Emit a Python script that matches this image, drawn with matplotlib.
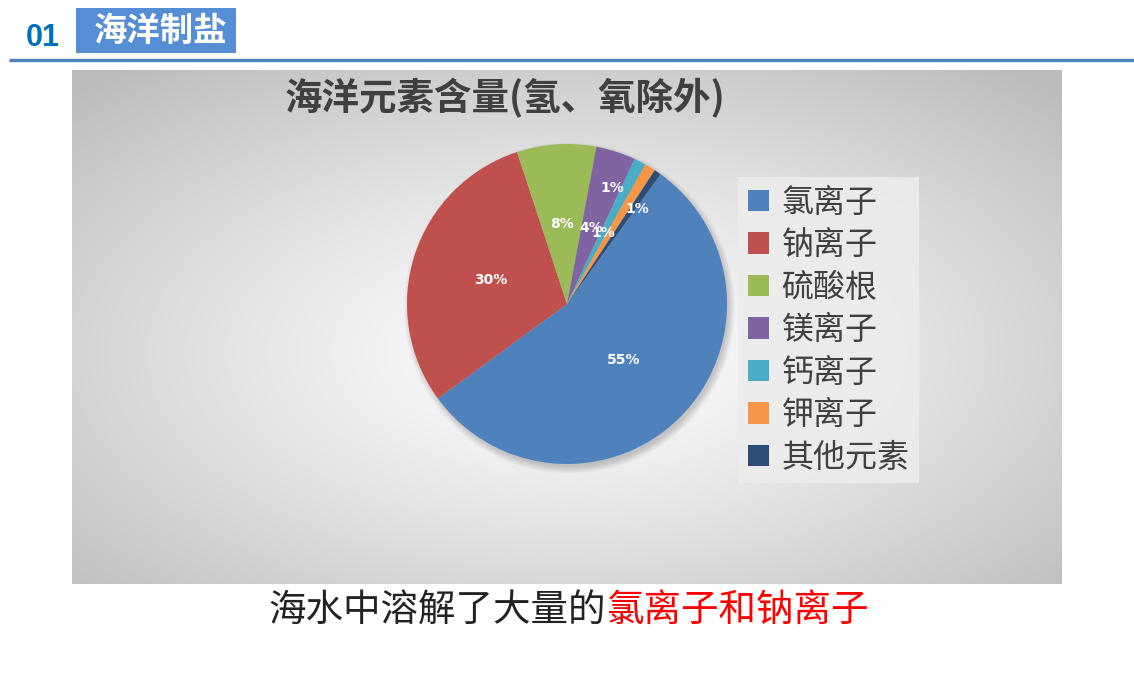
import numpy as np
import matplotlib
matplotlib.use('Agg')
import matplotlib.pyplot as plt
from matplotlib.patches import Patch, Rectangle, Circle

plt.rcParams['font.family'] = ['Noto Sans CJK SC', 'DejaVu Sans']

# data
labels = ['氯离子', '钠离子', '硫酸根', '镁离子', '钙离子', '钾离子', '其他元素']
values = [55.0, 30.0, 8.0, 4.0, 1.2, 1.1, 0.7]
colors = ['#4F81BD', '#C0504D', '#9BBB59', '#8064A2', '#4BACC6', '#F79646', '#2C4D75']
chart_title = '海洋元素含量(氢、氧除外)'
header_num = '01'
header_text = '海洋制盐'
note_black = '海水中溶解了大量的'
note_red = '氯离子和钠离子'

# label placement tweaks (radius, angle shift in degrees)
label_r = [0.5, 0.5, 0.5, 0.5, 0.5, 0.78, 0.74]
label_shift = [0, 0, 0, 0, 0, 10, -2]

W, H = 1134, 680
fig = plt.figure(figsize=(W / 100, H / 100), dpi=100)
fig.patch.set_facecolor('white')

bg = fig.add_axes([0, 0, 1, 1])
bg.set_xlim(0, W)
bg.set_ylim(H, 0)
bg.axis('off')

# chart area gradient (radial, light centre)
x0, x1, y0, y1 = 72, 1062, 70, 584
gx = np.linspace(-1, 1, 400)
gy = np.linspace(-1.1, 0.9, 240)
XX, YY = np.meshgrid(gx, gy)
d = np.clip(np.sqrt(XX ** 2 + YY ** 2) / np.sqrt(2), 0, 1) ** 1.2
c0 = np.array([1.0, 1.0, 1.0])
c1 = np.array([0.74, 0.74, 0.74])
img = c0[None, None, :] * (1 - d[..., None]) + c1[None, None, :] * d[..., None]
bg.imshow(img, extent=(x0, x1, y1, y0), aspect='auto', zorder=0)

# header
bg.text(43, 38, header_num, color='#0070C0', fontsize=22, fontweight='bold',
        family=['Liberation Sans', 'DejaVu Sans'], ha='center', va='center')
bg.add_patch(Rectangle((76, 8), 160, 45, facecolor='#558ED5', edgecolor='none'))
bg.text(161, 31, header_text, color='white', fontsize=24, fontweight='bold',
        ha='center', va='center')
bg.plot([9, W], [60, 60], color='#4F81BD', lw=2.4, solid_capstyle='butt')

# title
bg.text(505, 98, chart_title, color='#404040', fontsize=27, fontweight='bold',
        ha='center', va='center')

# bottom note
t1 = bg.text(606, 610, note_black, color='#222222', fontsize=27, ha='right', va='center')
bg.annotate(note_red, xy=(1, 0.5), xycoords=t1, color='#FF0000', fontsize=27,
            ha='left', va='center')

# pie
ax = fig.add_axes([407 / W, (H - 464) / H, 320 / W, 320 / H])
ax.set_facecolor('none')
for k in range(10):
    ax.add_patch(Circle((0.015, -0.025), 0.99 + k * 0.005, facecolor='black',
                        edgecolor='none', alpha=0.02, zorder=0, clip_on=False))
wedges, texts, autotexts = ax.pie(values, colors=colors, startangle=54.2,
                                  counterclock=False, autopct='%.0f%%',
                                  pctdistance=0.5, radius=1.0,
                                  textprops=dict(color='white', fontsize=10,
                                                 fontweight='bold',
                                                 family=['DejaVu Sans']),
                                  wedgeprops=dict(linewidth=0))
for w in wedges:
    w.set_zorder(2)
for i, t in enumerate(autotexts):
    w = wedges[i]
    ang = np.deg2rad((w.theta1 + w.theta2) / 2 + label_shift[i])
    t.set_position((label_r[i] * np.cos(ang), label_r[i] * np.sin(ang)))
    t.set_zorder(3)
ax.set_xlim(-1, 1)
ax.set_ylim(-1, 1)
ax.set_aspect('equal')
ax.axis('off')

# legend
handles = [Patch(facecolor=c, edgecolor='none') for c in colors]
leg = fig.legend(handles, labels, loc='upper left',
                 bbox_to_anchor=(738 / W, 1 - 177 / H), bbox_transform=fig.transFigure,
                 fontsize=23, frameon=True, fancybox=False, borderaxespad=0,
                 handlelength=0.66, handleheight=0.66, handletextpad=0.4,
                 labelspacing=0.33, borderpad=0.3)
leg.get_frame().set_facecolor('#ececec')
leg.get_frame().set_edgecolor('none')
leg.get_frame().set_alpha(0.9)
for t in leg.get_texts():
    t.set_color('#404040')

fig.savefig('out.png', dpi=100)
